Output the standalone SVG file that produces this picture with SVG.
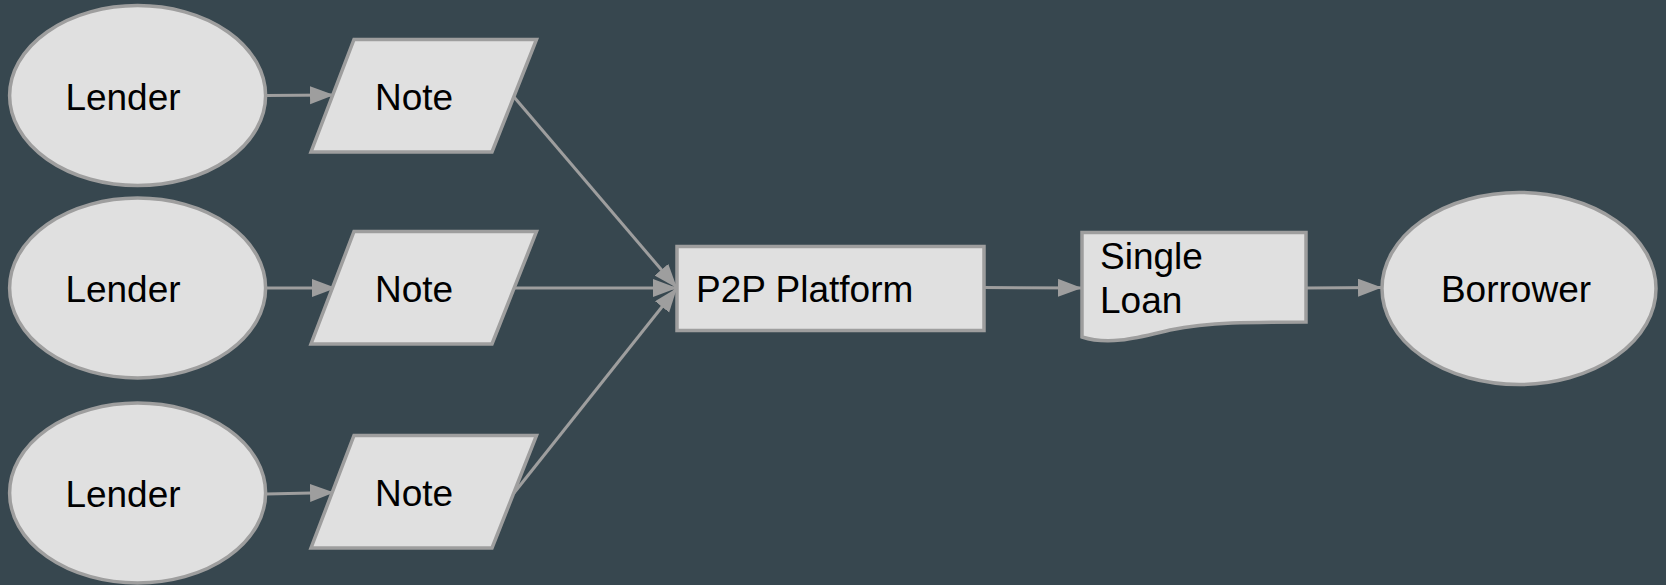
<svg xmlns="http://www.w3.org/2000/svg" width="1666" height="585" viewBox="0 0 1666 585">
<defs>
<style>
.n{fill:#e0e0e0;stroke:#9e9e9e;stroke-width:3.5}
.t{font-family:"Liberation Sans",Arial,sans-serif;font-size:37px;fill:#000}
.c{stroke:#9e9e9e;stroke-width:3;fill:none}
</style>
<marker id="ah" markerUnits="userSpaceOnUse" markerWidth="25" markerHeight="19" refX="24" refY="9" orient="auto">
<path d="M0,0 L24,9 L0,18 z" fill="#9e9e9e"/>
</marker>
</defs>
<rect width="1666" height="585" fill="#37474f"/>
<g id="connectors">
<line class="c" x1="266" y1="95.6" x2="334" y2="95" marker-end="url(#ah)"/>
<line class="c" x1="266" y1="288" x2="336" y2="288" marker-end="url(#ah)"/>
<line class="c" x1="266" y1="494" x2="334" y2="492.5" marker-end="url(#ah)"/>
<line class="c" x1="514" y1="97" x2="677" y2="288" marker-end="url(#ah)"/>
<line class="c" x1="514" y1="288" x2="677" y2="288" marker-end="url(#ah)"/>
<line class="c" x1="514" y1="493" x2="677" y2="288" marker-end="url(#ah)"/>
<line class="c" x1="984" y1="287.5" x2="1082" y2="288" marker-end="url(#ah)"/>
<line class="c" x1="1306" y1="288" x2="1382" y2="287.5" marker-end="url(#ah)"/>
</g>
<g id="lender1"><ellipse class="n" cx="137.6" cy="95.6" rx="128" ry="90"/><text class="t" x="123" y="97" text-anchor="middle" dominant-baseline="central">Lender</text></g>
<g id="lender2"><ellipse class="n" cx="137.6" cy="288" rx="128" ry="90"/><text class="t" x="123" y="289" text-anchor="middle" dominant-baseline="central">Lender</text></g>
<g id="lender3"><ellipse class="n" cx="137.6" cy="493" rx="128" ry="90"/><text class="t" x="123" y="494" text-anchor="middle" dominant-baseline="central">Lender</text></g>
<g id="note1"><polygon class="n" points="354,39.5 536.5,39.5 492,152 311,152"/><text class="t" x="414" y="97" text-anchor="middle" dominant-baseline="central">Note</text></g>
<g id="note2"><polygon class="n" points="354,231.5 536.5,231.5 492,344 311,344"/><text class="t" x="414" y="289" text-anchor="middle" dominant-baseline="central">Note</text></g>
<g id="note3"><polygon class="n" points="354,435.5 536.5,435.5 492,548 311,548"/><text class="t" x="414" y="493" text-anchor="middle" dominant-baseline="central">Note</text></g>
<g id="platform"><rect class="n" x="677" y="246.5" width="307" height="84"/><text class="t" x="696" y="289" dominant-baseline="central">P2P Platform</text></g>
<g id="loan"><path class="n" d="M1082,232.5 L1306,232.5 L1306,322 C1250,322 1210,322 1170,330 C1140,337 1110,346 1082,337 Z"/><text class="t" x="1100" y="256.5" dominant-baseline="central">Single</text><text class="t" x="1100" y="300.5" dominant-baseline="central">Loan</text></g>
<g id="borrower"><ellipse class="n" cx="1519" cy="288.5" rx="137" ry="96"/><text class="t" x="1516" y="289" text-anchor="middle" dominant-baseline="central">Borrower</text></g>
</svg>
